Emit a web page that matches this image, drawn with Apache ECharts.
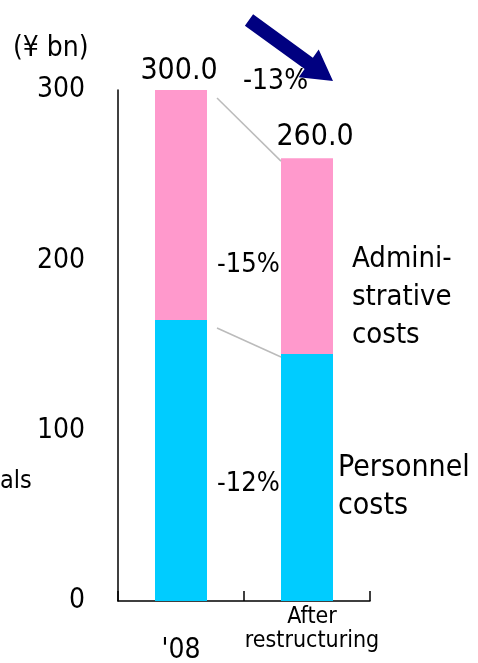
<!DOCTYPE html>
<html>
<head>
<meta charset="utf-8">
<script src="https://cdn.jsdelivr.net/npm/echarts@6/dist/echarts.min.js"></script>
<style>
  html, body { margin: 0; padding: 0; background: #fff; }
  #chart { width: 478px; height: 663px; }
</style>
</head>
<body>
<div id="chart"></div>
<script>
const FONT = "'DejaVu Sans Condensed', 'Liberation Sans', sans-serif";

const categories = ["'08", 'After restructuring'];
const personnel = [165, 145];
const admin = [135, 115];
const totals = [300.0, 260.0];
const changes = ['-13%', '-15%', '-12%'];
const yTicks = [0, 100, 200, 300];

const BAR_W = 52;

const chart = echarts.init(document.getElementById('chart'));

const option = {
  backgroundColor: '#fff',
  animation: false,
  textStyle: { fontFamily: FONT, color: '#000' },
  grid: { left: 118, right: 108, top: 90, bottom: 62, outerBoundsMode: 'none' },
  xAxis: {
    type: 'category',
    data: categories,
    axisLine: { lineStyle: { color: '#000', width: 1.5 } },
    axisTick: { show: true, inside: true, length: 10, lineStyle: { color: '#000', width: 1.5 } },
    axisLabel: {
      margin: 4,
      interval: 0,
      formatter: (v, i) => i === 0
        ? '{s| }\n{a|' + v + '}'
        : '{b|After}\n{b|restructuring}',
      rich: {
        s: { fontSize: 10, lineHeight: 31 },
        a: { fontFamily: FONT, fontSize: 28, lineHeight: 30, color: '#000' },
        b: { fontFamily: FONT, fontSize: 23, lineHeight: 24, color: '#000', padding: [0, 0, 0, 10] }
      }
    }
  },
  yAxis: {
    type: 'value',
    min: 0,
    max: 300,
    interval: 100,
    axisLine: { show: true, lineStyle: { color: '#000', width: 1.5 } },
    axisTick: { show: false },
    splitLine: { show: false },
    axisLabel: {
      margin: 33,
      fontFamily: FONT,
      fontSize: 28,
      color: '#000',
      formatter: v => yTicks.includes(v) ? String(v) : ''
    }
  },
  series: [
    {
      name: 'Personnel costs',
      type: 'bar',
      stack: 'cost',
      barWidth: BAR_W,
      itemStyle: { color: '#00CCFF' },
      data: personnel
    },
    {
      name: 'Administrative costs',
      type: 'bar',
      stack: 'cost',
      barWidth: BAR_W,
      itemStyle: { color: '#FF99CC' },
      data: admin.map((v, i) => ({
        value: v,
        label: {
          show: true,
          position: 'top',
          distance: i === 0 ? 4 : 6,
          offset: i === 0 ? [-2, 0] : [8, 0],
          fontFamily: FONT,
          fontSize: 30,
          color: '#000',
          formatter: () => totals[i].toFixed(1)
        }
      }))
    },
    {
      // connector lines between the bars
      type: 'custom',
      silent: true,
      z: 5,
      data: [0],
      renderItem: (params, api) => {
        const tops = [totals, personnel];
        const children = tops.map(arr => {
          const p1 = api.coord([0, arr[0]]);
          const p2 = api.coord([1, arr[1]]);
          return {
            type: 'line',
            shape: { x1: p1[0] + BAR_W / 2 + 10, y1: p1[1] + 8, x2: p2[0] - BAR_W / 2, y2: p2[1] + 3 },
            style: { stroke: '#BBBBBB', lineWidth: 1.5 }
          };
        });
        return { type: 'group', children };
      }
    }
  ],
  graphic: [
    { type: 'text', left: 13, top: 35, style: { text: '(¥ bn)', fontFamily: FONT, fontSize: 28, fill: '#000' } },
    { type: 'text', left: 243, top: 68, style: { text: changes[0], fontFamily: FONT, fontSize: 28, fill: '#000' } },
    { type: 'text', left: 217, top: 251, style: { text: changes[1], fontFamily: FONT, fontSize: 27, fill: '#000' } },
    { type: 'text', left: 217, top: 470, style: { text: changes[2], fontFamily: FONT, fontSize: 27, fill: '#000' } },
    {
      type: 'text', left: 352, top: 240,
      style: { text: 'Admini-\nstrative\ncosts', fontFamily: FONT, fontSize: 29, lineHeight: 38, fill: '#000' }
    },
    {
      type: 'text', left: 338, top: 449,
      style: { text: 'Personnel\ncosts', fontFamily: FONT, fontSize: 30, lineHeight: 38, fill: '#000' }
    },
    { type: 'text', left: 0, top: 469, style: { text: 'als', fontFamily: FONT, fontSize: 25, fill: '#000' } },
    {
      type: 'polygon',
      shape: {
        points: (() => {
          const sx = 249, sy = 20, tx = 333, ty = 81;
          const dx = tx - sx, dy = ty - sy, len = Math.hypot(dx, dy);
          const ux = dx / len, uy = dy / len, px = -uy, py = ux;
          const hw = 7, hh = 17, hl = 30;
          const bx = tx - ux * hl, by = ty - uy * hl;
          return [
            [sx + px * hw, sy + py * hw],
            [bx + px * hw, by + py * hw],
            [bx + px * hh, by + py * hh],
            [tx, ty],
            [bx - px * hh, by - py * hh],
            [bx - px * hw, by - py * hw],
            [sx - px * hw, sy - py * hw]
          ];
        })()
      },
      style: { fill: '#000080' }
    }
  ]
};

chart.setOption(option);
</script>
</body>
</html>
